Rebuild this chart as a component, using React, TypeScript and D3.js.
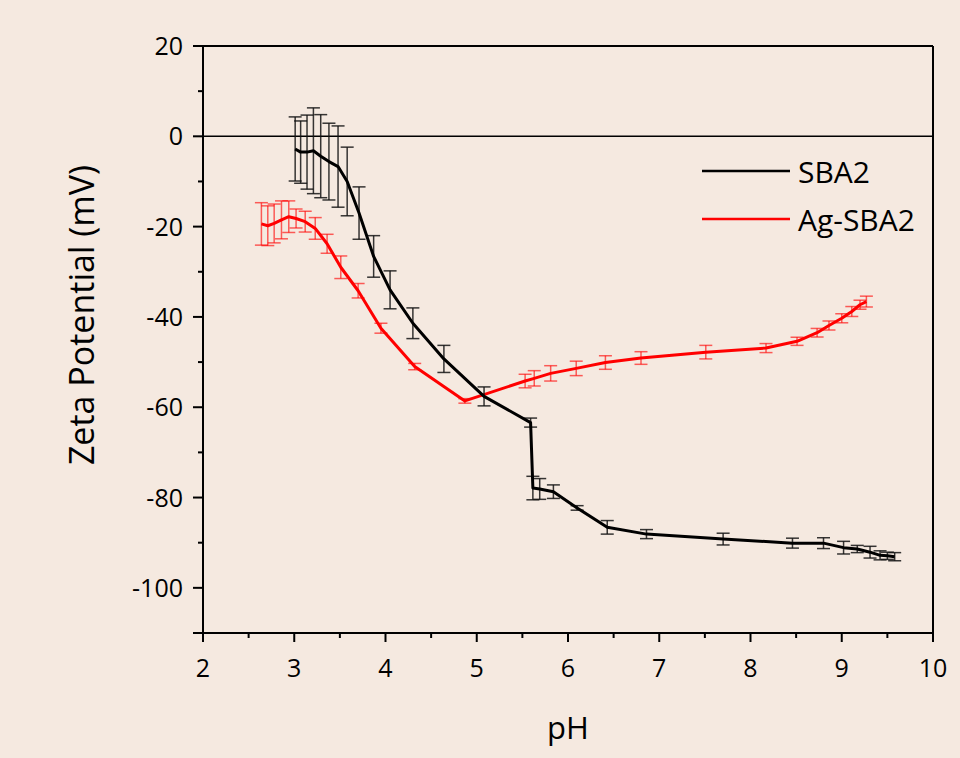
import * as d3 from 'd3';
import React from 'react';

// SBA2 (black)
const phSBA = [3.01, 3.07, 3.14, 3.21, 3.29, 3.38, 3.48, 3.58, 3.71, 3.87, 4.05, 4.30, 4.64, 5.08, 5.59, 5.615, 5.69, 5.84, 6.10, 6.43, 6.86, 7.70, 8.46, 8.80, 9.02, 9.17, 9.31, 9.42, 9.50, 9.58];
const zetaSBA = [-2.8, -3.5, -3.5, -3.2, -4.4, -5.6, -6.7, -10, -17, -26.6, -34, -41.4, -49.3, -57.6, -63.4, -77.9, -78.1, -78.7, -82.3, -86.6, -88.1, -89.2, -90.1, -90.1, -91.1, -91.4, -92.1, -92.8, -92.9, -93.1];
const errSBA = [7.1, 6.9, 8.2, 9.5, 9.2, 8.5, 9, 7.6, 5.8, 4.6, 4.2, 3.4, 3, 2.1, 1, 2.6, 2.3, 1.5, 0.5, 1.5, 1, 1.3, 1.1, 1.2, 1.4, 0.8, 1.3, 1, 0.8, 0.9];

// Ag-SBA2 (red)
const phAg = [2.64, 2.71, 2.78, 2.86, 2.94, 3.02, 3.12, 3.23, 3.36, 3.51, 3.70, 3.95, 4.32, 4.87, 5.53, 5.63, 5.81, 6.09, 6.41, 6.80, 7.51, 8.17, 8.51, 8.73, 8.86, 9.00, 9.11, 9.20, 9.27];
const zetaAg = [-19.4, -19.8, -19.3, -18.5, -17.8, -18.2, -18.9, -20.4, -23.8, -29, -34.2, -42.5, -51, -58.6, -54.2, -53.6, -52.5, -51.4, -50.1, -49.1, -47.8, -46.9, -45.4, -43.5, -41.9, -40.3, -38.8, -37.3, -36.6];
const errAg = [4.7, 4.4, 4.3, 4.2, 3.5, 2.1, 2.3, 2.4, 2.1, 2.5, 1.6, 1.1, 0.7, 0.5, 1.5, 1.7, 1.7, 1.6, 1.5, 1.4, 1.5, 1, 0.9, 0.95, 1, 1, 1.1, 1, 1.2];

const xTicks = [2, 3, 4, 5, 6, 7, 8, 9, 10];
const yTicks = [20, 0, -20, -40, -60, -80, -100];

const seriesNames = ['SBA2', 'Ag-SBA2'];

const W = 960, H = 758;
const left = 203, right = 933, top = 46, bottom = 633;
const font = '"Open Sans", sans-serif';

export default function App() {
    const x = d3.scaleLinear().domain([2, 10]).range([left, right]);
    const y = d3.scaleLinear().domain([-110, 20]).range([bottom, top]);

    const line = d3.line<[number, number]>()
        .x(d => x(d[0]))
        .y(d => y(d[1]));

    const series = [
        { name: seriesNames[1], ph: phAg, z: zetaAg, e: errAg, color: '#ff0000', bar: 'rgba(255,0,0,0.62)' },
        { name: seriesNames[0], ph: phSBA, z: zetaSBA, e: errSBA, color: '#000000', bar: 'rgba(20,20,20,0.85)' },
    ];

    const minorX = d3.range(2.5, 10, 1);
    const minorY = d3.range(10, -111, -20);

    return (
        <svg width={W} height={H} style={{ position: 'absolute', left: 0, top: 0, background: '#f5e9e0' }}>
            <rect x={0} y={0} width={W} height={H} fill="#f5e9e0" />

            {/* zero line */}
            <line x1={left} x2={right} y1={y(0)} y2={y(0)} stroke="#000" strokeWidth={1.6} />

            {series.map(s => (
                <g key={s.name}>
                    {s.ph.map((p, i) => {
                        const cx = x(p);
                        const y1 = y(s.z[i] + s.e[i]);
                        const y2 = y(s.z[i] - s.e[i]);
                        return (
                            <g key={i} stroke={s.bar} strokeWidth={1.5} fill="none">
                                <line x1={cx} x2={cx} y1={y1} y2={y2} />
                                <line x1={cx - 6.5} x2={cx + 6.5} y1={y1} y2={y1} />
                                <line x1={cx - 6.5} x2={cx + 6.5} y1={y2} y2={y2} />
                            </g>
                        );
                    })}
                    <path d={line(s.ph.map((p, i) => [p, s.z[i]] as [number, number])) || ''} fill="none" stroke={s.color} strokeWidth={3} strokeLinejoin="round" />
                </g>
            ))}

            {/* frame */}
            <line x1={left} x2={right} y1={top} y2={top} stroke="#000" strokeWidth={2} />
            <line x1={right} x2={right} y1={top} y2={bottom} stroke="#000" strokeWidth={2} />
            <line x1={left} x2={left} y1={top} y2={bottom} stroke="#000" strokeWidth={2} />
            <line x1={left} x2={right} y1={bottom} y2={bottom} stroke="#000" strokeWidth={2} />

            {/* x ticks */}
            {xTicks.map(t => (
                <g key={'x' + t}>
                    <line x1={x(t)} x2={x(t)} y1={bottom} y2={bottom + 9} stroke="#000" strokeWidth={2} />
                    <text x={x(t)} y={bottom + 44} textAnchor="middle" fontFamily={font} fontSize={25} fill="#000">{t}</text>
                </g>
            ))}
            {minorX.map(t => (
                <line key={'mx' + t} x1={x(t)} x2={x(t)} y1={bottom} y2={bottom + 5} stroke="#000" strokeWidth={2} />
            ))}

            {/* y ticks */}
            {yTicks.map(t => (
                <g key={'y' + t}>
                    <line x1={left - 10} x2={left} y1={y(t)} y2={y(t)} stroke="#000" strokeWidth={2} />
                    <text x={left - 20} y={y(t)} dy="0.36em" textAnchor="end" fontFamily={font} fontSize={25} fill="#000">{t}</text>
                </g>
            ))}
            {minorY.map(t => (
                <line key={'my' + t} x1={left - 5} x2={left} y1={y(t)} y2={y(t)} stroke="#000" strokeWidth={2} />
            ))}
            <line x1={left - 10} x2={left} y1={bottom} y2={bottom} stroke="#000" strokeWidth={2} />

            {/* axis titles */}
            <text x={568} y={739} textAnchor="middle" fontFamily={font} fontSize={31} fill="#000">pH</text>
            <text transform="translate(94,315) rotate(-90)" textAnchor="middle" fontFamily={font} fontSize={34} fill="#000">Zeta Potential (mV)</text>

            {/* legend */}
            <line x1={702} x2={790} y1={171} y2={171} stroke="#000" strokeWidth={2.5} />
            <text x={798} y={183} fontFamily={font} fontSize={30} fill="#000">{seriesNames[0]}</text>
            <line x1={702} x2={790} y1={219} y2={219} stroke="#ff0000" strokeWidth={2.5} />
            <text x={798} y={231} fontFamily={font} fontSize={30} fill="#000">{seriesNames[1]}</text>
        </svg>
    );
}
